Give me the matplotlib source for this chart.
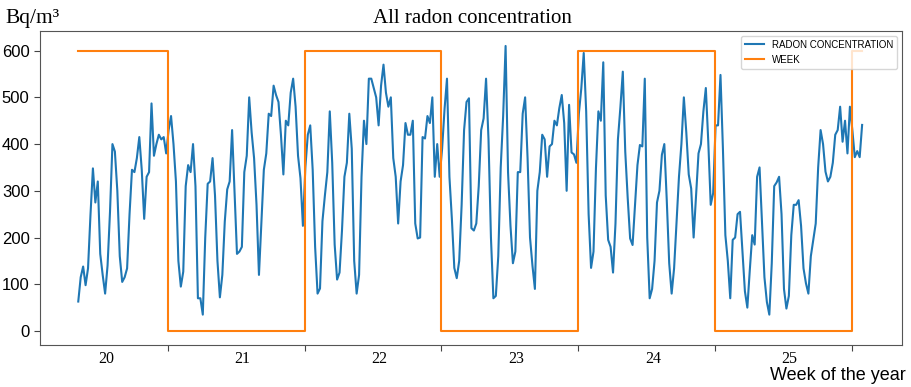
import matplotlib
matplotlib.use('Agg')
import matplotlib.pyplot as plt
import numpy as np

# radon concentration (Bq/m3), one reading every 3 hours
radon = [
    63, 115, 138, 98, 134, 248, 348, 275, 320, 165, 120, 80, 140, 255, 400, 384,
    300, 160, 105, 115, 134, 250, 345, 340, 370, 415, 345, 240, 330, 340, 487, 375,
    400, 420, 410, 415, 380, 430,
    460, 400, 320, 150, 95, 127, 310, 355, 340, 400, 310, 70, 70, 35, 200, 315,
    320, 370, 290, 150, 72, 120, 234, 303, 320, 430, 300, 165, 170, 180, 340, 375,
    500, 425, 370, 270, 120, 234, 345, 380, 465,
    460, 525, 505, 490, 420, 335, 450, 440, 510, 540, 480, 375, 327, 225, 350, 420,
    440, 345, 180, 80, 91, 235, 290, 340, 470, 360, 185, 110, 125, 215, 330, 360,
    465, 390, 150, 80, 120, 330, 450, 400, 540,
    540, 520, 500, 440, 525, 570, 510, 480, 500, 370, 330, 230, 320, 355, 445, 420,
    420, 450, 230, 198, 200, 415, 412, 460, 445, 500, 330, 400, 330, 390, 475, 540,
    330, 240, 135, 113, 150, 270, 430, 490, 498,
    220, 215, 230, 310, 430, 455, 540, 410, 200, 70, 75, 160, 350, 460, 610, 340,
    225, 145, 170, 340, 340, 465, 500, 370, 200, 140, 90, 300, 340, 420, 410, 330,
    395, 400, 450, 440, 477, 505, 445, 300, 484,
    382, 378, 360, 465, 519, 595, 470, 250, 135, 170, 348, 470, 450, 575, 290, 195,
    180, 125, 230, 410, 478, 555, 384, 285, 198, 184, 270, 355, 398, 395, 540, 200,
    70, 90, 150, 275, 300, 377, 400, 280, 145,
    80, 134, 234, 330, 400, 500, 425, 335, 305, 200, 292, 380, 400, 470, 520, 405,
    270, 295, 440, 440, 548, 390, 205, 150, 70, 195, 200, 250, 255, 170, 85, 50,
    130, 205, 185, 330, 350, 230, 115, 62, 35,
    145, 310, 318, 330, 250, 90, 48, 75, 205, 270, 270, 280, 225, 134, 102, 80,
    160, 195, 230, 350, 430, 400, 341, 320, 330, 360, 420, 430, 480, 405, 450, 380,
    480, 430, 372, 385, 372, 441,
]

# week indicator: hours where each week starts, and its level
week_edges = [0, 110, 278, 446, 614, 782, 950, 963]
week_level = [600, 0, 600, 0, 600, 0, 600]
week_names = ['20', '21', '22', '23', '24', '25']

hours = np.arange(len(radon)) * 3

fig = plt.figure(figsize=(9.12, 3.87), dpi=100)
ax = fig.add_axes([40 / 912, 42 / 387, 862 / 912, 314 / 387])

ax.plot(hours, radon, color='#1f77b4', lw=1.5, label='RADON CONCENTRATION')
ax.step(week_edges, week_level + [week_level[-1]], where='post',
        color='#ff7f0e', lw=1.5, label='WEEK')

ax.set_xlim(-47, 1012)
ax.set_ylim(-30, 642)

# ticks on week boundaries, labels in the middle of each week
ax.set_xticks(week_edges[1:-1])
ax.set_xticklabels([])
ax.set_xticks([e - 76 for e in week_edges[1:-1]], minor=True)
ax.set_xticklabels(week_names, minor=True, family='Liberation Serif', fontsize=11.5)
ax.tick_params(axis='x', which='minor', length=0, pad=4)
ax.tick_params(axis='x', which='major', length=4, color='#444444')
ax.set_yticks([0, 100, 200, 300, 400, 500, 600])
ax.tick_params(axis='y', labelsize=12, length=4, color='#444444')
for t in ax.get_yticklabels():
    t.set_family('Liberation Sans')

for s in ax.spines.values():
    s.set_color('#555555')

ax.legend(loc='upper right', prop={'family': 'Liberation Sans', 'size': 7})

fig.text(472 / 912, 1 - 23 / 387, 'All radon concentration',
         family='Liberation Serif', fontsize=15, ha='center', va='baseline')
fig.text(5 / 912, 1 - 23 / 387, 'Bq/m\u00b3',
         family='Liberation Serif', fontsize=15.5, ha='left', va='baseline')
fig.text(906 / 912, 7 / 387, 'Week of the year',
         family='Liberation Sans', fontsize=13, ha='right', va='baseline')

fig.savefig('out.png', dpi=100)
